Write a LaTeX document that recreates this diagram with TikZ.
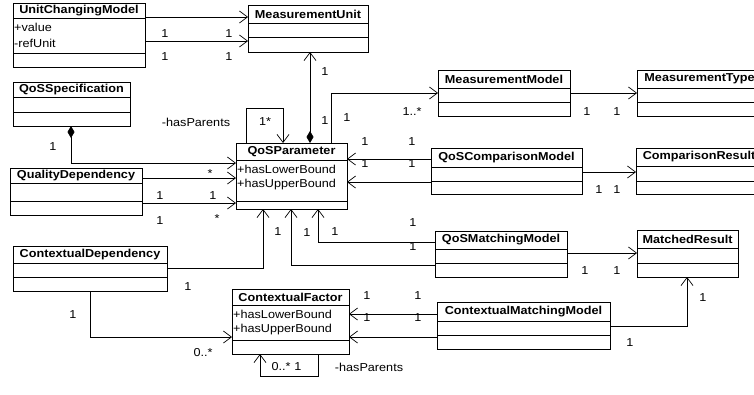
\documentclass[tikz,border=0pt]{standalone}
\usepackage{fontspec}
\setmainfont{Liberation Sans}[FakeStretch=1.1]
\usetikzlibrary{arrows.meta}
\newcommand\umlbox[8]{%
  \node[cls, minimum width={(#4-#2)*1pt}, minimum height={(#5-#3)*1pt}] (#1) at (#2,#3) {};
  \draw[sepline] (#1.west |- 0,#6) -- (#1.east |- 0,#6);
  \draw[sepline] (#1.west |- 0,#7) -- (#1.east |- 0,#7);
  \node[ttl] (#1-t) at ({(#2+#4)/2},{(#3+#6)/2}) {#8};
}
\begin{document}
\begin{tikzpicture}[x=1pt,y=-1pt,
  cls/.style={draw, line width=0.9pt, fill=white, inner sep=0pt, outer sep=0pt, anchor=north west},
  sepline/.style={line width=0.9pt},
  ttl/.style={font=\fontsize{11.5}{13}\selectfont\bfseries, inner sep=0pt},
  att/.style={font=\fontsize{11.5}{13}\selectfont, inner sep=0pt, anchor=west},
  lbl/.style={font=\fontsize{11.5}{13}\selectfont, inner sep=0pt},
  assoc/.style={line width=0.7pt, -{Straight Barb[length=8pt,width=12pt]}},
  plainline/.style={line width=0.7pt},
  comp/.style={line width=0.7pt, {Diamond[length=12pt,width=7pt]}-{Straight Barb[length=8pt,width=12pt]}}
]
\useasboundingbox (0,0) rectangle (754,394);
\clip (0,0) rectangle (754,394);
\fill[white] (0,0) rectangle (754,394);

% classes
\umlbox{ucm}{13}{3}{145}{67}{18}{53}{UnitChangingModel}
\node[att] (ucm-a1) at (14,27) {+value};
\node[att] (ucm-a2) at (14,43) {-refUnit};
\umlbox{mu}{248}{5}{368}{52}{23}{37}{MeasurementUnit}
\umlbox{qs}{13}{82}{130}{126}{97}{112}{QoSSpecification}
\umlbox{qp}{236}{143}{347}{209}{160}{201}{QoSParameter}
\node[att] (qp-a1) at (237,169) {+hasLowerBound};
\node[att] (qp-a2) at (237,185) {+hasUpperBound};
\umlbox{mm}{438}{70}{570}{116}{88}{102}{MeasurementModel}
\umlbox{mt}{637}{70}{762}{116}{88}{102}{MeasurementType}
\umlbox{qcm}{431}{148}{582}{194}{167}{181}{QoSComparisonModel}
\umlbox{cr}{636}{148}{762}{194}{166}{181}{ComparisonResult}
\umlbox{qd}{10}{168}{142}{215}{183}{201}{QualityDependency}
\umlbox{cd}{13}{246}{167}{291}{263}{277}{ContextualDependency}
\umlbox{qmm}{435}{231}{567}{277}{249}{263}{QoSMatchingModel}
\umlbox{mr}{637}{230}{738}{277}{248}{263}{MatchedResult}
\umlbox{cf}{232}{289}{349}{354}{305}{340}{ContextualFactor}
\node[att] (cf-a1) at (233,314) {+hasLowerBound};
\node[att] (cf-a2) at (233,330) {+hasUpperBound};
\umlbox{cmm}{437}{302}{610}{349}{321}{335}{ContextualMatchingModel}

% connectors
\draw[assoc] (ucm.east |- 0,17) -- (mu.west |- 0,17);
\draw[assoc] (ucm.east |- 0,41) -- (mu.west |- 0,41);
\draw[line width=0.7pt, {Diamond[length=12pt,width=7pt]}-{Straight Barb[length=8pt,width=12pt]}]
  (qs.south -| 71,0) -- (71,163) -- (qp.west |- 0,163);
\draw[assoc] (qp.north -| 246,0) -- (246,108) -- (283,108) -- (qp.north -| 283,0);
\draw[comp] (qp.north -| 310,0) -- (mu.south -| 310,0);
\draw[assoc] (qp.north -| 331,0) -- (331,93) -- (mm.west |- 0,93);
\draw[assoc] (mm.east |- 0,93) -- (mt.west |- 0,93);
\draw[assoc] (qcm.west |- 0,159) -- (qp.east |- 0,159);
\draw[assoc] (qcm.west |- 0,182) -- (qp.east |- 0,182);
\draw[assoc] (qcm.east |- 0,172) -- (cr.west |- 0,172);
\draw[assoc] (qd.east |- 0,178) -- (qp.west |- 0,178);
\draw[assoc] (qd.east |- 0,203) -- (qp.west |- 0,203);
\draw[assoc] (cd.east |- 0,268) -- (263,268) -- (qp.south -| 263,0);
\draw[assoc] (qmm.west |- 0,265) -- (291,265) -- (qp.south -| 291,0);
\draw[assoc] (qmm.west |- 0,242) -- (318,242) -- (qp.south -| 318,0);
\draw[assoc] (qmm.east |- 0,253) -- (mr.west |- 0,253);
\draw[assoc] (cd.south -| 90,0) -- (90,337) -- (cf.west |- 0,337);
\draw[assoc] (cf.south -| 318,0) -- (318,376) -- (260,376) -- (cf.south -| 260,0);
\draw[assoc] (cmm.west |- 0,314) -- (cf.east |- 0,314);
\draw[assoc] (cmm.west |- 0,337) -- (cf.east |- 0,337);
\draw[assoc] (cmm.east |- 0,326) -- (687,326) -- (mr.south -| 687,0);

% multiplicity and role labels
\node[lbl] (l1) at (165,34) {1};
\node[lbl] (l2) at (229,34) {1};
\node[lbl] (l3) at (165,57) {1};
\node[lbl] (l4) at (229,57) {1};
\node[lbl] (l5) at (53,147) {1};
\node[lbl] (l6) at (265,122) {1*};
\node[lbl] (l7) at (196,122) {-hasParents};
\node[lbl] (l8) at (325,72) {1};
\node[lbl] (l9) at (325,121) {1};
\node[lbl] (l10) at (347,118) {1};
\node[lbl] (l11) at (412,112) {1..*};
\node[lbl] (l12) at (587,112) {1};
\node[lbl] (l13) at (617,112) {1};
\node[lbl] (l14) at (365,142) {1};
\node[lbl] (l15) at (412,142) {1};
\node[lbl] (l16) at (365,164) {1};
\node[lbl] (l17) at (412,164) {1};
\node[lbl] (l18) at (599,190) {1};
\node[lbl] (l19) at (617,190) {1};
\node[lbl] (l20) at (210,174) {*};
\node[lbl] (l21) at (160,196) {1};
\node[lbl] (l22) at (213,196) {1};
\node[lbl] (l23) at (160,221) {1};
\node[lbl] (l24) at (217,219) {*};
\node[lbl] (l25) at (188,287) {1};
\node[lbl] (l26) at (278,232) {1};
\node[lbl] (l27) at (307,233) {1};
\node[lbl] (l28) at (335,232) {1};
\node[lbl] (l29) at (413,223) {1};
\node[lbl] (l30) at (413,247) {1};
\node[lbl] (l31) at (585,271) {1};
\node[lbl] (l32) at (617,271) {1};
\node[lbl] (l33) at (73,315) {1};
\node[lbl] (l34) at (203,353) {0..*};
\node[lbl] (l35) at (281,367) {0..*};
\node[lbl] (l36) at (298,367) {1};
\node[lbl] (l37) at (369,367) {-hasParents};
\node[lbl] (l38) at (367,296) {1};
\node[lbl] (l39) at (418,296) {1};
\node[lbl] (l40) at (367,318) {1};
\node[lbl] (l41) at (418,318) {1};
\node[lbl] (l42) at (703,298) {1};
\node[lbl] (l43) at (630,343) {1};
\end{tikzpicture}
\end{document}
